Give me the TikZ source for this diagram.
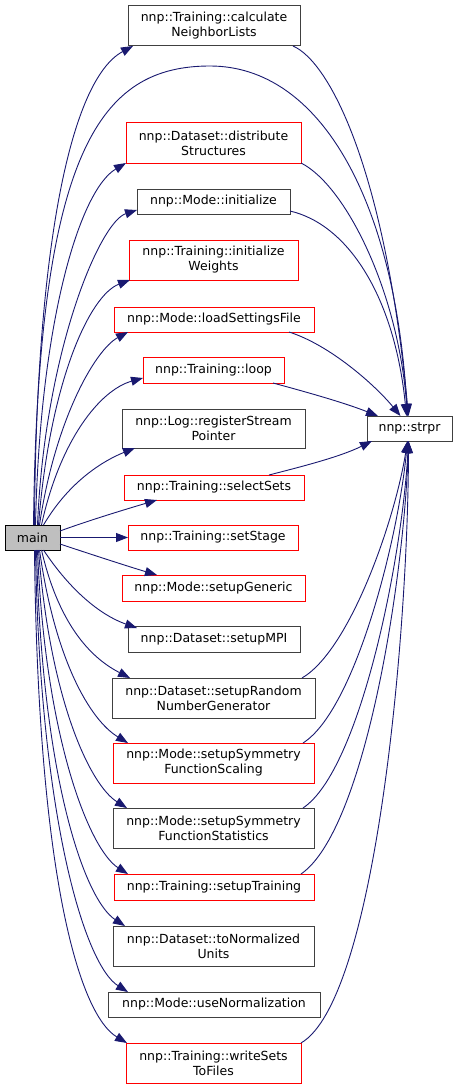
\documentclass[tikz,border=0pt]{standalone}
\usepackage{fontspec}
\setmainfont{DejaVu Sans}
\usepackage{tikz}
\usetikzlibrary{arrows.meta,positioning,calc}
\definecolor{cedge}{RGB}{25,25,112}
\definecolor{cgray}{RGB}{64,64,64}
\definecolor{cmain}{RGB}{191,191,191}
\tikzset{box/.style={draw=cgray, align=center, inner sep=0pt, outer sep=0pt, line width=1pt, font=\fontsize{12.5}{15}\selectfont}}
\tikzset{rbox/.style={box, draw=red}}
\tikzset{arr/.style={-{Triangle[length=12pt,width=9pt]}, draw=cedge, line width=0.9pt}}

\begin{document}
\begin{tikzpicture}[x=1pt, y=-1pt]
        \useasboundingbox (0,0) rectangle (457,1089);

        %%% CALLER %%%
        \node[box, draw=black, fill=cmain, minimum width=55, minimum height=25] (main) at (32.5,537.5) {main};

        %%% CALLEES %%%
        \node[box, minimum width=172, minimum height=40] (cnl) at (214,26) {nnp::Training::calculate\\NeighborLists};
        \node[rbox, minimum width=175, minimum height=40] (dist) at (213.5,143) {nnp::Dataset::distribute\\Structures};
        \node[box, minimum width=153, minimum height=25] (init) at (213.5,201.5) {nnp::Mode::initialize};
        \node[rbox, minimum width=169, minimum height=40] (initw) at (213.5,260) {nnp::Training::initialize\\Weights};
        \node[rbox, minimum width=200, minimum height=25] (load) at (214,319.5) {nnp::Mode::loadSettingsFile};
        \node[rbox, minimum width=141, minimum height=26] (loop) at (213.5,370) {nnp::Training::loop};
        \node[box, minimum width=183, minimum height=39] (log) at (213.5,428.5) {nnp::Log::registerStream\\Pointer};
        \node[rbox, minimum width=180, minimum height=25] (sel) at (214,487.5) {nnp::Training::selectSets};
        \node[rbox, minimum width=170, minimum height=25] (stage) at (213,537.5) {nnp::Training::setStage};
        \node[rbox, minimum width=183, minimum height=26] (gen) at (213.5,588) {nnp::Mode::setupGeneric};
        \node[box, minimum width=172, minimum height=26] (mpi) at (214,639) {nnp::Dataset::setupMPI};
        \node[box, minimum width=203, minimum height=40] (rng) at (213.5,698) {nnp::Dataset::setupRandom\\NumberGenerator};
        \node[rbox, minimum width=201, minimum height=40] (scal) at (213.5,763) {nnp::Mode::setupSymmetry\\FunctionScaling};
        \node[box, minimum width=201, minimum height=40] (stat) at (213.5,828) {nnp::Mode::setupSymmetry\\FunctionStatistics};
        \node[rbox, minimum width=200, minimum height=26] (train) at (214,887) {nnp::Training::setupTraining};
        \node[box, minimum width=201, minimum height=40] (norm) at (213.5,946) {nnp::Dataset::toNormalized\\Units};
        \node[box, minimum width=212, minimum height=25] (usen) at (214,1004.5) {nnp::Mode::useNormalization};
        \node[rbox, minimum width=175, minimum height=40] (write) at (213.5,1063) {nnp::Training::writeSets\\ToFiles};

        %%% SHARED CALLEE %%%
        \node[box, minimum width=85, minimum height=25] (strpr) at (409.5,428.5) {nnp::strpr};

        %%% MAIN -> CALLEES %%%
        \draw[arr] ([xshift=2pt]main.north) .. controls (36,250) and (70,80) .. ([xshift=5pt]cnl.south west);
        \draw[arr] ([xshift=3pt]main.north) .. controls (40,320) and (80,190) .. (dist.south west);
        \draw[arr] ([xshift=5pt]main.north) .. controls (45,350) and (100,222) .. ([yshift=4pt]init.south west);
        \draw[arr] ([xshift=6pt]main.north) .. controls (50,380) and (90,295) .. ([xshift=1pt]initw.south west);
        \draw[arr] ([xshift=7pt]main.north) .. controls (55,420) and (95,350) .. ([xshift=14pt]load.south west);
        \draw[arr] ([xshift=9pt]main.north) .. controls (60,440) and (100,390) .. ([yshift=5pt]loop.south west);
        \draw[arr] ([xshift=11pt]main.north) .. controls (70,480) and (105,460) .. ([xshift=13pt]log.south west);
        \draw[arr] ([yshift=-6pt]main.north east) .. controls (90,520) and (130,508) .. ([xshift=33pt]sel.south west);
        \draw[arr] (main.east) -- (stage.west);
        \draw[arr] ([yshift=6pt]main.south east) .. controls (90,554) and (130,567) .. ([xshift=35pt]gen.north west);
        \draw[arr] ([xshift=11pt]main.south) .. controls (70,590) and (100,615) .. ([xshift=9pt,yshift=-2pt]mpi.north west);
        \draw[arr] ([xshift=9pt]main.south) .. controls (60,630) and (95,660) .. ([xshift=18pt]rng.north west);
        \draw[arr] ([xshift=7pt]main.south) .. controls (55,660) and (90,720) .. ([xshift=15pt]scal.north west);
        \draw[arr] ([xshift=6pt]main.south) .. controls (50,700) and (90,785) .. ([xshift=14pt]stat.north west);
        \draw[arr] ([xshift=5pt]main.south) .. controls (45,740) and (90,850) .. ([xshift=14pt]train.north west);
        \draw[arr] ([xshift=4pt]main.south) .. controls (42,780) and (85,900) .. ([xshift=12pt]norm.north west);
        \draw[arr] ([xshift=3pt]main.south) .. controls (40,820) and (85,965) .. ([xshift=20pt]usen.north west);
        \draw[arr] ([xshift=2pt]main.south) .. controls (38,880) and (80,1015) .. ([xshift=1pt]write.north west);

        %%% CALLEES -> STRPR %%%
        \draw[arr] ([xshift=1pt]main.north) .. controls (38,150) and (100,66) .. (210,66)
            .. controls (320,66) and (395,200) .. ([xshift=-2pt]strpr.north);
        \draw[arr] ([xshift=-7pt]cnl.south east) .. controls (330,62) and (385,170) .. ([xshift=-1pt]strpr.north);
        \draw[arr] (dist.south east) .. controls (345,185) and (398,290) .. ([xshift=-2pt]strpr.north);
        \draw[arr] ([yshift=3pt]init.south east) .. controls (350,225) and (395,300) .. ([xshift=-3pt]strpr.north);
        \draw[arr] ([xshift=-25pt]load.south east) .. controls (330,345) and (375,385) .. ([xshift=-9pt]strpr.north);
        \draw[arr] ([xshift=-11pt]loop.south east) .. controls (310,393) and (345,403) .. ([xshift=11pt]strpr.north west);
        \draw[arr] ([xshift=-35pt]sel.north east) .. controls (300,467) and (340,457) .. ([xshift=5pt]strpr.south west);
        \draw[arr] ([xshift=-13pt]rng.north east) .. controls (350,650) and (395,520) .. ([xshift=-2pt]strpr.south);
        \draw[arr] ([xshift=-11pt]scal.north east) .. controls (355,710) and (398,540) .. ([xshift=-2pt]strpr.south);
        \draw[arr] ([xshift=-11pt]stat.north east) .. controls (360,770) and (402,560) .. ([xshift=-1pt]strpr.south);
        \draw[arr] ([xshift=-13pt]train.north east) .. controls (365,830) and (404,580) .. ([xshift=-1pt]strpr.south);
        \draw[arr] (write.north east) .. controls (375,1000) and (408,640) .. ([xshift=-1pt]strpr.south);
    \end{tikzpicture}
\end{document}
